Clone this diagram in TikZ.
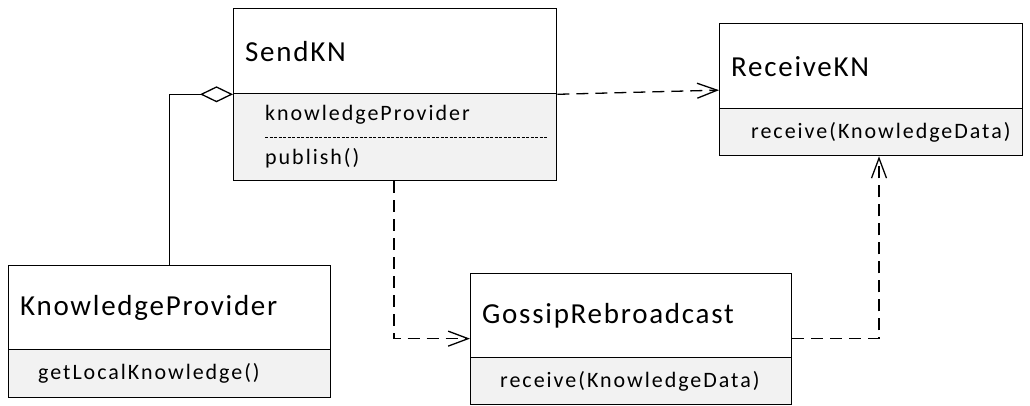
\documentclass[tikz,border=0pt]{standalone}
\usepackage{fontspec}
\setmainfont{Carlito}
\newfontfamily\umltitlefont[LetterSpace=6]{Carlito}
\newfontfamily\umlmemberfont[LetterSpace=9]{Carlito}
\usetikzlibrary{arrows.meta, positioning, calc}
\definecolor{cmpgray}{RGB}{242, 242, 242}

\begin{document}
\begin{tikzpicture}[
  x=1pt, y=-1pt,
  hdr/.style={draw, fill=white, line width=1.3pt, anchor=north west, inner sep=0pt},
  cmp/.style={draw, fill=cmpgray, line width=1.3pt, anchor=north west, inner sep=0pt},
  title/.style={inner sep=0pt, font=\umltitlefont\fontsize{29}{33}\selectfont},
  member/.style={inner sep=0pt, font=\umlmemberfont\fontsize{22}{26}\selectfont},
  dep/.style={line width=1.3pt, dash pattern=on 12pt off 7pt, -{Straight Barb[length=20pt, width=15pt, line width=1.3pt]}},
  agg/.style={line width=1.3pt, -{Diamond[open, length=33pt, width=16pt, line width=1.3pt]}}
]
  \useasboundingbox (0,0) rectangle (1030,406);

  % SendKN
  \node[hdr, minimum width=323pt, minimum height=85pt] (send) at (233,8) {};
  \node[cmp, minimum width=323pt, minimum height=87pt] (sendm) at (233,93) {};
  \node[title, right=12pt of send.west] (sendT) {SendKN};
  \node[member, anchor=west] (sendA) at ($(sendm.west)+(32,-22)$) {knowledgeProvider};
  \node[member, anchor=west] (sendO) at ($(sendm.west)+(32,21)$) {publish()};
  \draw[line width=1pt, dash pattern=on 3pt off 1.5pt] ($(sendm.west)+(32,0)$) -- ($(sendm.east)+(-10,0)$);

  % ReceiveKN
  \node[hdr, minimum width=303pt, minimum height=85pt] (recv) at (719,23) {};
  \node[cmp, minimum width=303pt, minimum height=47pt] (recvm) at (719,108) {};
  \node[title, right=12pt of recv.west] (recvT) {ReceiveKN};
  \node[member, right=32pt of recvm.west] (recvO) {receive(KnowledgeData)};

  % KnowledgeProvider
  \node[hdr, minimum width=322pt, minimum height=84pt] (kp) at (8,265) {};
  \node[cmp, minimum width=322pt, minimum height=48pt] (kpm) at (8,349) {};
  \node[title, right=12pt of kp.west] (kpT) {KnowledgeProvider};
  \node[member, right=30pt of kpm.west] (kpO) {getLocalKnowledge()};

  % GossipRebroadcast
  \node[hdr, minimum width=321pt, minimum height=84pt] (gossip) at (470,273) {};
  \node[cmp, minimum width=321pt, minimum height=47pt] (gossipm) at (470,357) {};
  \node[title, right=12pt of gossip.west] (gossipT) {GossipRebroadcast};
  \node[member, right=30pt of gossipm.west] (gossipO) {receive(KnowledgeData)};

  % connectors
  \draw[agg] (kp.north) |- (send.south west);
  \draw[dep] (send.south east) -- ([yshift=-24pt]recv.west);
  \draw[dep] ([xshift=161pt]sendm.south west) |- ([yshift=-23pt]gossip.west);
  \draw[dep] ([yshift=-23pt]gossip.east) -| ([xshift=160pt]recvm.south west);
\end{tikzpicture}
\end{document}
